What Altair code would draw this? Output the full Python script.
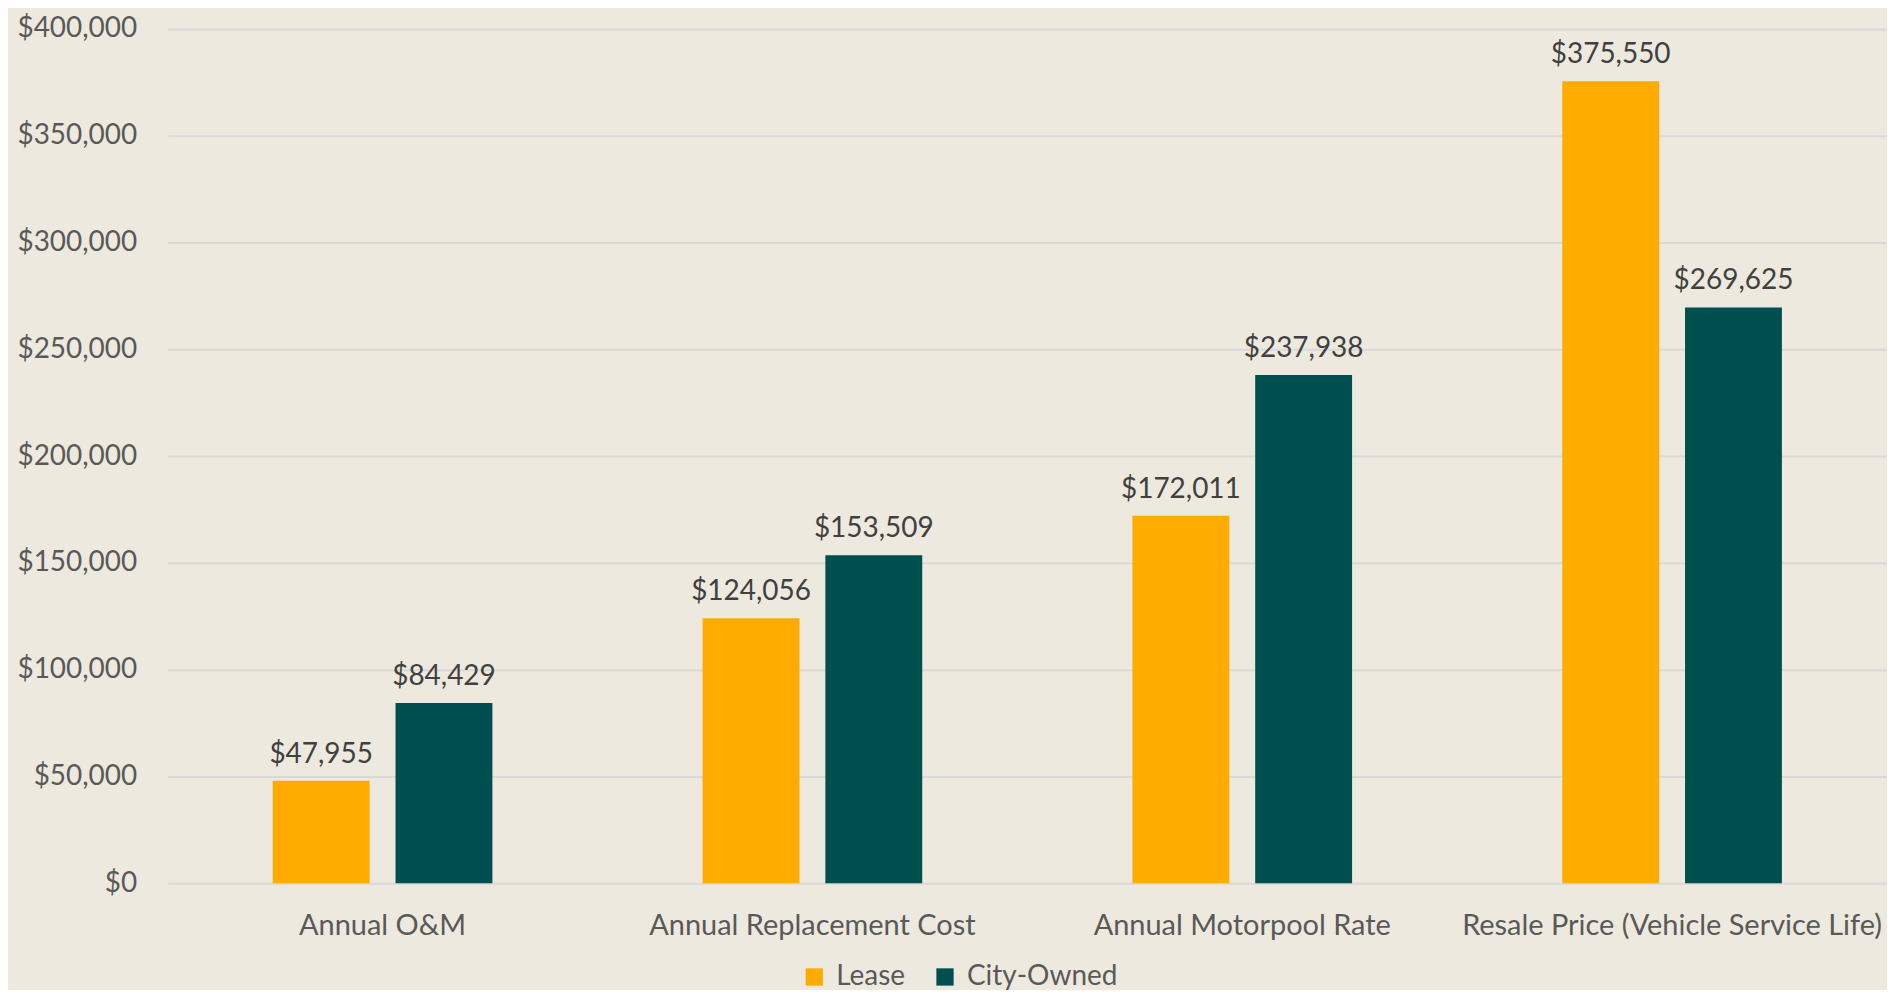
import altair as alt
import pandas as pd

categories = ["Annual O&M", "Annual Replacement Cost", "Annual Motorpool Rate", "Resale Price (Vehicle Service Life)"]
series = ["Lease", "City-Owned"]
lease_values = [47955, 124056, 172011, 375550]
city_values = [84429, 153509, 237938, 269625]
colors = ["#FFAB00", "#004F4F"]

rows = []
for c, l, o in zip(categories, lease_values, city_values):
    rows.append({"category": c, "series": "Lease", "value": l})
    rows.append({"category": c, "series": "City-Owned", "value": o})
df = pd.DataFrame(rows)

FONT = "Lato"

x = alt.X("category:N", sort=categories, title=None,
          scale=alt.Scale(paddingInner=0.489, paddingOuter=0.2445),
          axis=alt.Axis(labelFontSize=29, labelColor="#595959", labelFont=FONT,
                        labelPadding=28, ticks=False, domain=False, labelAngle=0,
                        labelLimit=0, labelOverlap=False))
xo = alt.XOffset("series:N", sort=series,
                 scale=alt.Scale(paddingInner=0.211, paddingOuter=0))
y = alt.Y("value:Q", title=None,
          scale=alt.Scale(domain=[0, 400000], nice=False),
          axis=alt.Axis(values=list(range(0, 400001, 50000)), format="$,.0f",
                        labelFontSize=28, labelColor="#595959", labelFont=FONT,
                        labelPadding=31, ticks=False, domain=False,
                        gridColor="#D9D9D9", gridWidth=2))

bars = alt.Chart(df).mark_bar().encode(
    x=x, xOffset=xo, y=y,
    color=alt.Color("series:N", sort=series,
                    scale=alt.Scale(domain=series, range=colors),
                    legend=alt.Legend(title=None, orient="none", direction="horizontal",
                                      legendX=634, legendY=936,
                                      symbolType="square", symbolSize=300,
                                      symbolStrokeWidth=0,
                                      labelFontSize=28, labelColor="#595959",
                                      labelFont=FONT, columnPadding=26,
                                      labelOffset=8, symbolOpacity=1)),
)

labels = alt.Chart(df).mark_text(baseline="bottom", dy=-12, fontSize=28,
                                 font=FONT, color="#404040").encode(
    x=x, xOffset=xo, y=y,
    text=alt.Text("value:Q", format="$,.0f"),
)

chart = (bars + labels).properties(
    width=1723, height=856,
    background="#EDE9DF",
    padding={"left": 160, "top": 20, "right": 0, "bottom": 106},
    autosize=alt.AutoSizeParams(type="none"),
).configure_view(stroke=None)

chart.save("out.html", embed_options={"renderer": "svg", "actions": False})
